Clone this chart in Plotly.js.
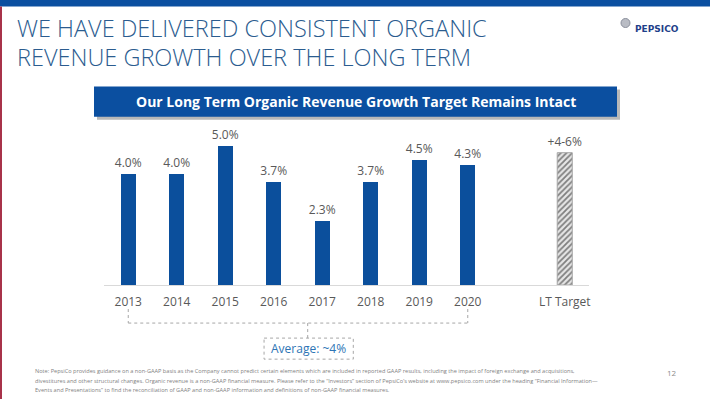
<!DOCTYPE html>
<html>
<head>
<meta charset="utf-8">
<script src="https://cdn.plot.ly/plotly-3.0.1.min.js"></script>
<style>html,body{margin:0;padding:0;background:#fff;}#chart{width:710px;height:399px;}</style>
</head>
<body>
<div id="chart"></div>
<script>
// ---- data ----
const years = ['2013', '2014', '2015', '2016', '2017', '2018', '2019', '2020'];
const growth = [4.0, 4.0, 5.0, 3.7, 2.3, 3.7, 4.5, 4.3];
const growthLabels = ['4.0%', '4.0%', '5.0%', '3.7%', '2.3%', '3.7%', '4.5%', '4.3%'];
const targetCategory = ['LT Target'];
const targetBar = [4.75];
const targetLabels = ['+4-6%'];
const averageLabel = 'Average: ~4%';
const titleLines = ['WE HAVE DELIVERED CONSISTENT ORGANIC', 'REVENUE GROWTH OVER THE LONG TERM'];
const bannerText = 'Our Long Term Organic Revenue Growth Target Remains Intact';
const noteLines = [
  'Note: PepsiCo provides guidance on a non-GAAP basis as the Company cannot predict certain elements which are included in reported GAAP results, including the impact of foreign exchange and acquisitions,',
  'divestitures and other structural changes. Organic revenue is a non-GAAP financial measure. Please refer to the \u201cInvestors\u201d section of PepsiCo\u2019s website at www.pepsico.com under the heading \u201cFinancial Information\u2014',
  'Events and Presentations\u201d to find the reconciliation of GAAP and non-GAAP information and definitions of non-GAAP financial measures.'
];
const pageNumber = '12';

// ---- layout helpers ----
const W = 710, H = 399;
const L = 104, R = 121, T = 129.3, B = 114;
const PW = W - L - R, PH = H - T - B;
const fx = px => (px - L) / PW;
const fy = py => (H - B - py) / PH;

const yearX = years.map((_, i) => i);
const targetX = [years.length + 1];
const firstX = yearX[0], lastX = yearX[yearX.length - 1];
const FONT = 'Open Sans, Noto Sans, sans-serif';
const GRAY = '#595959';
const BRACKET = {color: '#a6a6a6', width: 1, dash: 'dot'};

const traces = [
  {
    type: 'bar', x: yearX, y: growth, width: 0.31,
    marker: {color: '#0b4f9c'},
    text: growthLabels, textposition: 'outside', constraintext: 'none', cliponaxis: false,
    textfont: {family: FONT, size: 12, color: GRAY},
    hoverinfo: 'skip'
  },
  {
    type: 'bar', x: targetX, y: targetBar, width: 0.31,
    marker: {color: '#dcdcdc', line: {color: '#a6a6a6', width: 1},
      pattern: {shape: '/', fgcolor: '#7f7f7f', bgcolor: '#e6e6e6', size: 4, solidity: 0.45}},
    text: targetLabels, textposition: 'outside', constraintext: 'none', cliponaxis: false,
    textfont: {family: FONT, size: 12, color: GRAY},
    hoverinfo: 'skip'
  }
];

const shapes = [
  // top strip
  {type: 'rect', xref: 'paper', yref: 'paper', x0: fx(0), x1: fx(W), y0: fy(0), y1: fy(7), fillcolor: '#0b4fa0', line: {width: 0}, layer: 'below'},
  // left red rule
  {type: 'rect', xref: 'paper', yref: 'paper', x0: fx(0), x1: fx(2), y0: fy(7), y1: fy(H), fillcolor: '#a8324a', line: {width: 0}, layer: 'below'},
  // banner shadow
  {type: 'rect', xref: 'paper', yref: 'paper', x0: fx(97), x1: fx(620), y0: fy(90), y1: fy(120), fillcolor: 'rgba(0,0,0,0.28)', line: {width: 0}, layer: 'below'},
  // banner
  {type: 'rect', xref: 'paper', yref: 'paper', x0: fx(94), x1: fx(617), y0: fy(87), y1: fy(117), fillcolor: '#0b4fa0', line: {width: 0}, layer: 'below'},
  // logo globe
  {type: 'circle', xref: 'paper', yref: 'paper', x0: fx(621), x1: fx(630), y0: fy(19), y1: fy(28), fillcolor: '#b9bcc4', line: {color: '#8a8f9c', width: 1}},
  // average bracket (x on data scale, y on paper)
  {type: 'line', xref: 'x', yref: 'paper', x0: firstX, x1: firstX, y0: fy(309), y1: fy(323), line: BRACKET},
  {type: 'line', xref: 'x', yref: 'paper', x0: lastX, x1: lastX, y0: fy(309), y1: fy(323), line: BRACKET},
  {type: 'line', xref: 'x', yref: 'paper', x0: firstX, x1: lastX, y0: fy(323), y1: fy(323), line: BRACKET},
  {type: 'line', xref: 'x', yref: 'paper', x0: 3.7, x1: 3.7, y0: fy(323), y1: fy(338), line: BRACKET},
  {type: 'rect', xref: 'x', yref: 'paper', x0: 2.8, x1: 4.64, y0: fy(338), y1: fy(359), line: BRACKET, fillcolor: 'rgba(0,0,0,0)'}
];

const annotations = [
  {xref: 'paper', yref: 'paper', x: fx(15), y: fy(28), xanchor: 'left', yanchor: 'middle', showarrow: false,
   text: titleLines[0], font: {family: FONT, size: 23.5, color: '#2b5c8f', weight: 300}},
  {xref: 'paper', yref: 'paper', x: fx(15), y: fy(57), xanchor: 'left', yanchor: 'middle', showarrow: false,
   text: titleLines[1], font: {family: FONT, size: 23.5, color: '#2b5c8f', weight: 300}},
  {xref: 'paper', yref: 'paper', x: fx(355.5), y: fy(102), xanchor: 'center', yanchor: 'middle', showarrow: false,
   text: '<b>' + bannerText + '</b>', font: {family: FONT, size: 14, color: '#ffffff'}},
  {xref: 'paper', yref: 'paper', x: fx(633), y: fy(29.5), xanchor: 'left', yanchor: 'middle', showarrow: false,
   text: '<b>PEPSICO</b>', font: {family: 'DejaVu Sans, sans-serif', size: 9, color: '#1f3f8a'}},
  {xref: 'x', yref: 'paper', x: 3.72, y: fy(348.5), xanchor: 'center', yanchor: 'middle', showarrow: false,
   text: averageLabel, font: {family: FONT, size: 12, color: '#2e74b5'}},
  {xref: 'paper', yref: 'paper', x: fx(672), y: fy(372), xanchor: 'center', yanchor: 'middle', showarrow: false,
   text: pageNumber, font: {family: FONT, size: 8, color: '#8c8c8c'}}
];
noteLines.forEach((t, i) => annotations.push({
  xref: 'paper', yref: 'paper', x: fx(33), y: fy(371 + i * 9.6), xanchor: 'left', yanchor: 'middle', showarrow: false,
  text: t, font: {family: FONT, size: 5.6, color: '#7f7f7f'}
}));

const layout = {
  width: W, height: H,
  margin: {l: L, r: R, t: T, b: B, pad: 0},
  paper_bgcolor: '#ffffff', plot_bgcolor: '#ffffff',
  showlegend: false,
  bargap: 0,
  xaxis: {
    range: [-0.5, 9.5], tickvals: yearX.concat(targetX), ticktext: years.concat(targetCategory),
    showgrid: false, zeroline: false, showline: true, linecolor: '#d9d9d9', linewidth: 1,
    ticks: '', ticklabelstandoff: 6,
    tickfont: {family: FONT, size: 12, color: GRAY}, fixedrange: true
  },
  yaxis: {range: [0, 5.6], visible: false, fixedrange: true},
  shapes: shapes,
  annotations: annotations
};

Plotly.newPlot('chart', traces, layout, {staticPlot: true, displayModeBar: false});
</script>
</body>
</html>
